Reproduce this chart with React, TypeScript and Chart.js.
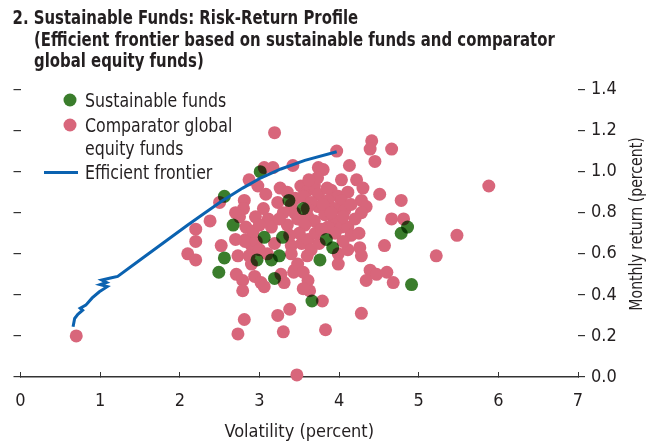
import React, { useEffect, useRef } from 'react';
import { Chart, registerables } from 'chart.js';

Chart.register(...registerables);

const FONT = "'Liberation Sans Narrow', 'Arial Narrow', 'DejaVu Sans Condensed', sans-serif";
const TEXT = '#231f20';
const PINK = '#d8667b';
const GREEN = '#3a7d2c';
const BLUE = '#0b62b0';

const titleLines = [
  '2. Sustainable Funds: Risk-Return Profile',
  '(Efficient frontier based on sustainable funds and comparator',
  'global equity funds)',
];
const xAxisTitle = 'Volatility (percent)';
const yAxisTitle = 'Monthly return (percent)';
const legendSustainable = 'Sustainable funds';
const legendComparator = ['Comparator global', 'equity funds'];
const legendFrontier = 'Efficient frontier';

const xTicks = [0, 1, 2, 3, 4, 5, 6, 7];
const yTicks = [0, 0.2, 0.4, 0.6, 0.8, 1.0, 1.2, 1.4];

const sustainableX = [3.01, 2.56, 3.37, 3.55, 2.67, 3.06, 3.29, 3.84, 3.92, 2.56, 2.49, 2.97, 3.15, 3.25, 3.76, 3.19, 3.66, 4.86, 4.78, 4.91];
const sustainableY = [1.00, 0.88, 0.86, 0.82, 0.74, 0.68, 0.68, 0.67, 0.63, 0.58, 0.51, 0.57, 0.57, 0.59, 0.57, 0.48, 0.37, 0.73, 0.70, 0.45];

const comparatorX = [
  3.19, 4.41, 4.39, 4.66, 3.97, 4.45, 4.13, 3.42, 3.74, 3.80, 3.06, 3.17, 2.87, 2.98, 4.03, 4.22, 4.30, 3.52, 3.61, 3.69,
  3.73, 3.90, 3.99, 4.11, 4.51, 4.78, 3.26, 3.08, 2.81, 2.50, 3.23, 3.74, 3.86, 3.74, 4.03, 3.94, 4.07, 4.28, 4.34, 4.28,
  3.44, 3.48, 3.61, 3.69, 3.57, 3.82, 3.94, 3.86, 4.03, 4.11, 4.15, 4.66, 4.81, 2.80, 2.75, 2.38, 2.20, 2.20, 2.83, 3.11,
  3.15, 2.83, 2.90, 3.19, 3.40, 3.53, 3.61, 3.99, 4.11, 4.26, 4.28, 4.57, 5.22, 2.52, 2.10, 2.20, 2.73, 2.71, 2.87, 2.90,
  3.40, 3.44, 3.60, 3.99, 4.39, 4.47, 4.34, 4.60, 4.68, 2.79, 2.79, 2.94, 3.02, 3.06, 3.27, 3.31, 3.43, 3.61, 3.63, 3.55,
  3.79, 4.28, 3.23, 3.38, 2.81, 2.73, 3.30, 3.83, 3.47, 0.70, 5.88, 5.48, 2.82, 2.96, 3.48, 3.55,
  3.35, 3.45, 3.55, 3.65, 3.80, 3.90, 3.60, 3.40, 3.30, 3.50, 3.70, 3.78, 3.95, 4.05, 4.20, 4.15, 4.25, 3.35, 3.25, 3.05,
  2.95, 2.92, 3.00, 3.38, 3.65, 3.75, 4.05, 3.85, 3.62, 3.00, 3.10, 2.70, 2.70,
];
const comparatorY = [
  1.19, 1.15, 1.11, 1.11, 1.10, 1.05, 1.03, 1.03, 1.02, 1.01, 1.02, 1.02, 0.96, 0.93, 0.96, 0.96, 0.92, 0.93, 0.91, 0.93,
  0.97, 0.91, 0.88, 0.90, 0.89, 0.86, 0.92, 0.89, 0.86, 0.85, 0.85, 0.89, 0.86, 0.83, 0.86, 0.82, 0.81, 0.86, 0.83, 0.80,
  0.80, 0.77, 0.78, 0.76, 0.74, 0.79, 0.76, 0.73, 0.73, 0.73, 0.69, 0.77, 0.77, 0.82, 0.78, 0.76, 0.72, 0.66, 0.73, 0.77,
  0.73, 0.67, 0.64, 0.65, 0.64, 0.65, 0.67, 0.60, 0.62, 0.63, 0.59, 0.64, 0.59, 0.64, 0.60, 0.57, 0.59, 0.50, 0.59, 0.55,
  0.60, 0.52, 0.59, 0.55, 0.52, 0.50, 0.47, 0.51, 0.46, 0.47, 0.42, 0.49, 0.46, 0.44, 0.50, 0.46, 0.51, 0.47, 0.42, 0.43,
  0.37, 0.31, 0.30, 0.33, 0.28, 0.21, 0.22, 0.23, 0.01, 0.20, 0.93, 0.69, 0.66, 0.66, 0.55, 0.51,
  0.90, 0.87, 0.88, 0.85, 0.84, 0.80, 0.82, 0.84, 0.80, 0.70, 0.70, 0.72, 0.70, 0.78, 0.77, 0.84, 0.70, 0.74, 0.77, 0.82,
  0.78, 0.71, 0.74, 0.69, 0.62, 0.65, 0.66, 0.92, 0.96, 0.62, 0.60, 0.80, 0.67,
];

const frontierX = [0.66, 0.68, 0.72, 0.78, 0.75, 0.82, 0.90, 0.99, 1.09, 1.00, 1.08, 1.02, 1.13, 1.22, 1.50, 1.80, 2.10, 2.30, 2.52, 2.79, 3.02, 3.27, 3.57, 3.97];
const frontierY = [0.245, 0.285, 0.305, 0.325, 0.335, 0.35, 0.385, 0.415, 0.44, 0.45, 0.46, 0.472, 0.482, 0.49, 0.57, 0.655, 0.74, 0.795, 0.855, 0.92, 0.97, 1.013, 1.055, 1.097];

const toPoints = (xs: number[], ys: number[]) => xs.map((x, i) => ({ x, y: ys[i] }));

const multiplyPlugin = {
  id: 'multiplyGreen',
  beforeDatasetDraw(chart: any, args: any) {
    if (chart.data.datasets[args.index].label === legendSustainable) {
      chart.ctx.save();
      chart.ctx.globalCompositeOperation = 'multiply';
    }
  },
  afterDatasetDraw(chart: any, args: any) {
    if (chart.data.datasets[args.index].label === legendSustainable) {
      chart.ctx.restore();
    }
  },
};

function narrowText(ctx: CanvasRenderingContext2D, text: string, x: number, y: number, sx: number) {
  ctx.save();
  ctx.translate(x, y);
  ctx.scale(sx, 1);
  ctx.fillText(text, 0, 0);
  ctx.restore();
}

const textPlugin = {
  id: 'textDecor',
  afterDraw(chart: any) {
    const ctx: CanvasRenderingContext2D = chart.ctx;
    ctx.save();
    ctx.fillStyle = TEXT;
    ctx.textBaseline = 'alphabetic';
    ctx.textAlign = 'left';
    // Title
    ctx.font = `bold 19.5px ${FONT}`;
    narrowText(ctx, titleLines[0], 12.5, 24, 0.85);
    narrowText(ctx, titleLines[1], 34, 45.5, 0.85);
    narrowText(ctx, titleLines[2], 34, 66.5, 0.85);
    // Legend
    ctx.fillStyle = GREEN;
    ctx.beginPath();
    ctx.arc(70, 100, 6.5, 0, Math.PI * 2);
    ctx.fill();
    ctx.fillStyle = PINK;
    ctx.beginPath();
    ctx.arc(70, 125, 6.5, 0, Math.PI * 2);
    ctx.fill();
    ctx.strokeStyle = BLUE;
    ctx.lineWidth = 3;
    ctx.beginPath();
    ctx.moveTo(44, 172.5);
    ctx.lineTo(78, 172.5);
    ctx.stroke();
    ctx.fillStyle = TEXT;
    ctx.font = `19.5px ${FONT}`;
    narrowText(ctx, legendSustainable, 85, 107, 0.9);
    narrowText(ctx, legendComparator[0], 85, 131.5, 0.9);
    narrowText(ctx, legendComparator[1], 85, 155, 0.9);
    narrowText(ctx, legendFrontier, 85, 179.3, 0.9);
    // Right axis title (reads bottom to top)
    ctx.font = `18px ${FONT}`;
    ctx.translate(637, 224);
    ctx.rotate(-Math.PI / 2);
    ctx.scale(0.87, 1);
    ctx.textAlign = 'center';
    ctx.textBaseline = 'middle';
    ctx.fillText(yAxisTitle, 0, 0);
    ctx.restore();
  },
};

export default function App() {
  const ref = useRef<HTMLCanvasElement>(null);
  useEffect(() => {
    if (!ref.current) return;
    const tickFont = { family: FONT, size: 18 };
    const chart = new Chart(ref.current, {
      type: 'scatter',
      data: {
        datasets: [
          {
            label: legendFrontier,
            data: toPoints(frontierX, frontierY),
            showLine: true,
            borderColor: BLUE,
            borderWidth: 3,
            pointRadius: 0,
            tension: 0,
            fill: false,
            order: 0,
          } as any,
          {
            label: legendSustainable,
            data: toPoints(sustainableX, sustainableY),
            backgroundColor: GREEN,
            borderWidth: 0,
            pointRadius: 6.5,
            clip: false,
            order: 1,
          } as any,
          {
            label: legendComparator.join(' '),
            data: toPoints(comparatorX, comparatorY),
            backgroundColor: PINK,
            borderWidth: 0,
            pointRadius: 6.5,
            clip: false,
            order: 2,
          } as any,
        ],
      },
      options: {
        animation: false,
        responsive: false,
        devicePixelRatio: 1,
        layout: { autoPadding: false, padding: { top: 89.5, left: 0, right: 0, bottom: 0 } },
        plugins: {
          legend: { display: false },
          title: { display: false },
          tooltip: { enabled: false },
        },
        scales: {
          x: {
            type: 'linear',
            position: 'bottom',
            min: 0,
            max: 7,
            afterBuildTicks: (s: any) => { s.ticks = xTicks.map((v) => ({ value: v })); },
            afterFit: (s: any) => { s.height = 70; },
            ticks: { font: { family: FONT, size: 18, lineHeight: '59px' }, color: TEXT, padding: 0 },
            grid: { drawOnChartArea: false, drawTicks: true, tickLength: -5, color: '#333', lineWidth: 1 },
            border: { display: true, color: '#333', width: 1.5 },
            title: { display: true, text: xAxisTitle, font: tickFont, color: TEXT, padding: { top: 0, bottom: 4 } },
          },
          y: {
            type: 'linear',
            position: 'left',
            min: 0,
            max: 1.4,
            afterBuildTicks: (s: any) => { s.ticks = yTicks.map((v) => ({ value: v })); },
            afterFit: (s: any) => { s.width = 20.5; },
            ticks: { display: false },
            grid: { drawOnChartArea: false, drawTicks: true, tickLength: 7, color: '#333', lineWidth: 1.2 },
            border: { display: false },
          },
          y2: {
            type: 'linear',
            position: 'right',
            min: 0,
            max: 1.4,
            afterBuildTicks: (s: any) => { s.ticks = yTicks.map((v) => ({ value: v })); },
            afterFit: (s: any) => { s.width = 84; },
            ticks: { font: tickFont, color: TEXT, padding: 6, callback: (v: any) => Number(v).toFixed(1) },
            grid: { drawOnChartArea: false, drawTicks: true, tickLength: 7, color: '#333', lineWidth: 1.2 },
            border: { display: false },
          },
        },
      } as any,
      plugins: [multiplyPlugin, textPlugin],
    });
    return () => chart.destroy();
  }, []);
  return (
    <div style={{ position: 'fixed', left: 0, top: 0, width: 662, height: 447, background: '#fff' }}>
      <canvas ref={ref} width={662} height={447} style={{ display: 'block', width: 662, height: 447 }} />
    </div>
  );
}
